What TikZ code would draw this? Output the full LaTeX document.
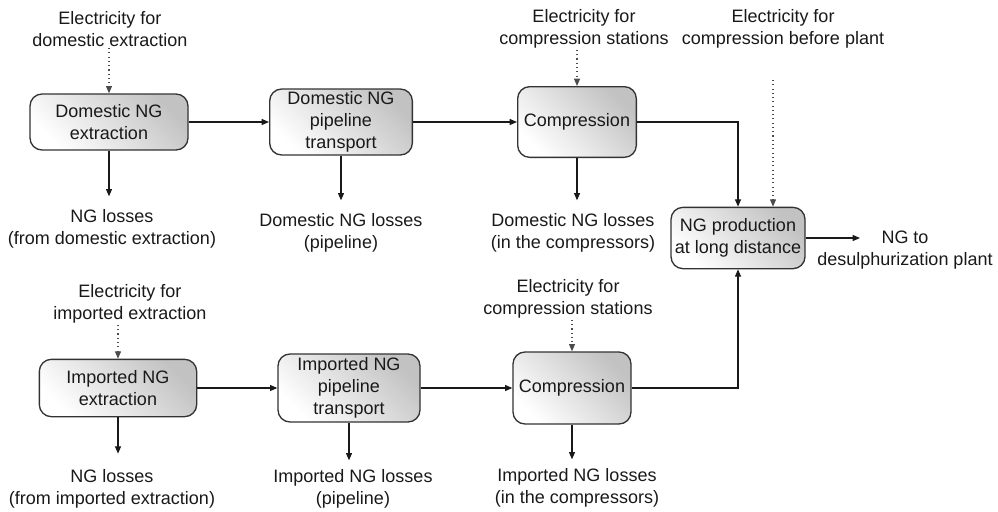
\documentclass[tikz,border=0pt]{standalone}
\usepackage{fontspec}
\setmainfont{Liberation Sans}
\usetikzlibrary{arrows.meta}
\newcommand\myfs{\fontsize{13.5}{16.4}\selectfont}
\begin{document}
\begin{tikzpicture}[x=0.75pt,y=-0.75pt,
  proc/.style={draw=black!80, line width=1pt, rounded corners=9pt,
    top color=black!24, bottom color=white, shading angle=-45,
    align=center, inner sep=1pt, font=\myfs, text=black!90},
  lbl/.style={align=center, inner sep=1pt, font=\myfs, text=black!90},
  loss/.style={lbl, outer ysep=9pt},
  flow/.style={draw=black!90, line width=0.9pt, -{Triangle[length=5.5pt,width=4.5pt]}},
  elec/.style={draw=black!70, line width=0.8pt, dash pattern=on 0.8pt off 2.4pt,
    -{Triangle[length=5.5pt,width=4.5pt]}}]
\useasboundingbox (0,0) rectangle (998,511);

% top row
\node[lbl] (ed) at (110,29) {Electricity for\\domestic extraction};
\node[proc, minimum width=118.5pt, minimum height=42pt] (b1) at (109,122) {Domestic NG\\extraction};
\node[loss] (l1) at (112,229) {NG losses\\(from domestic extraction)};

\node[proc, minimum width=107pt, minimum height=49.5pt] (b2) at (341,122) {Domestic NG\\pipeline\\transport};
\node[loss] (l2) at (341,233) {Domestic NG losses\\(pipeline)};

\node[lbl] (ec1) at (584,29) {Electricity for\\compression stations};
\node[proc, minimum width=89pt, minimum height=53pt] (b3) at (577,122) {Compression};
\node[loss] (l3) at (573,233) {Domestic NG losses\\(in the compressors)};

\node[lbl] (ecb) at (783,29) {Electricity for\\compression before plant};
\coordinate (ecbd) at (773,80);
\node[proc, minimum width=100.5pt, minimum height=46pt] (np) at (738,238) {NG production\\at long distance};
\node[lbl] (ngd) at (905,250) {NG to\\desulphurization plant};
\coordinate (ngdtip) at (860,238);

% bottom row
\node[lbl] (ei) at (130,304) {Electricity for\\imported extraction};
\node[proc, minimum width=118pt, minimum height=43pt] (b5) at (118,388) {Imported NG\\extraction};
\node[loss, outer ysep=11pt] (l5) at (112,489) {NG losses\\(from imported extraction)};

\node[proc, minimum width=106.5pt, minimum height=51pt] (b6) at (349,388) {Imported NG\\pipeline\\transport};
\node[loss, outer ysep=6pt] (l6) at (353,489) {Imported NG losses\\(pipeline)};

\node[lbl] (ec2) at (568,299) {Electricity for\\compression stations};
\node[proc, minimum width=88.5pt, minimum height=54pt] (b7) at (572,388) {Compression};
\node[loss, outer ysep=6pt] (l7) at (577,488) {Imported NG losses\\(in the compressors)};

% electricity inputs
\draw[elec] (ed.south -| b1.north) -- (b1.north);
\draw[elec] (ec1.south -| b3.north) -- (b3.north);
\draw[elec] (ecbd) -- (ecbd |- np.north);
\draw[elec] (ei.south -| b5.north) -- (b5.north);
\draw[elec] (ec2.south -| b7.north) -- (b7.north);

% main flows
\draw[flow] (b1.east) -- (b2.west);
\draw[flow] (b2.east) -- (b3.west);
\draw[flow] (b3.east) -| (np.north);
\draw[flow] (np.east) -- (ngdtip);
\draw[flow] (b5.east) -- (b6.west);
\draw[flow] (b6.east) -- (b7.west);
\draw[flow] (b7.east) -| (np.south);

% losses
\draw[flow] (b1.south) -- (b1.south |- l1.north);
\draw[flow] (b2.south) -- (b2.south |- l2.north);
\draw[flow] (b3.south) -- (b3.south |- l3.north);
\draw[flow] (b5.south) -- (b5.south |- l5.north);
\draw[flow] (b6.south) -- (b6.south |- l6.north);
\draw[flow] (b7.south) -- (b7.south |- l7.north);
\end{tikzpicture}
\end{document}
